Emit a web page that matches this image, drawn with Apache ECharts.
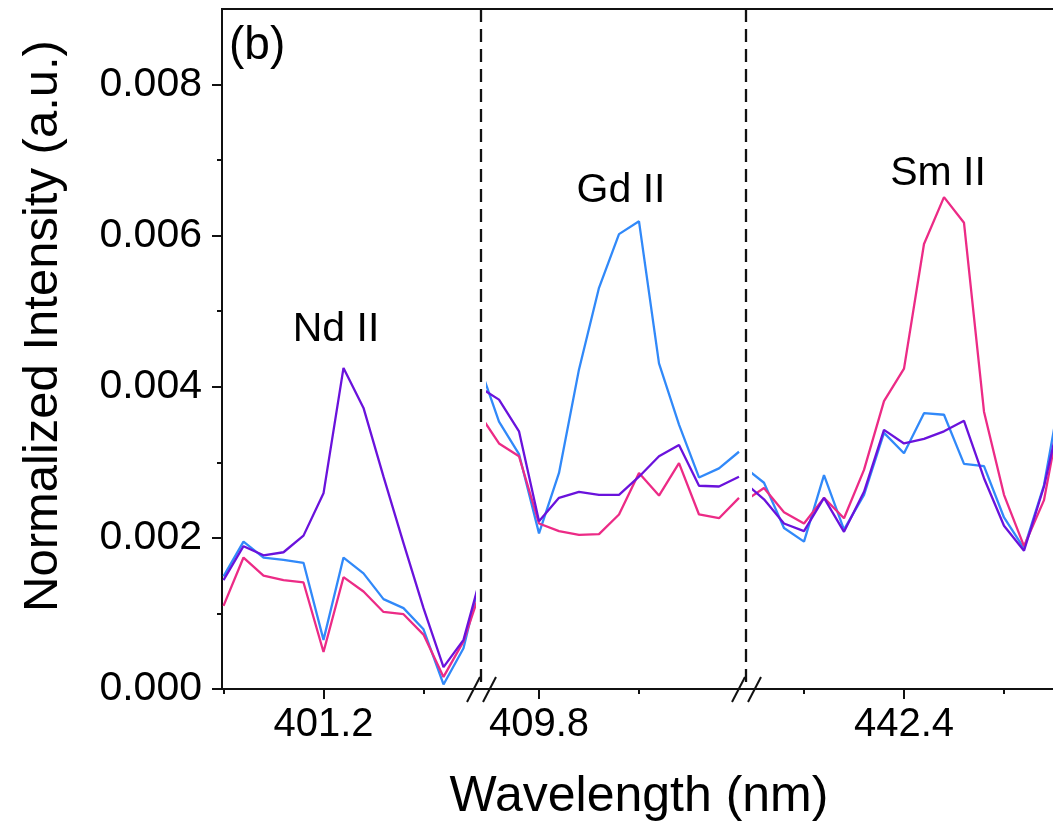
<!DOCTYPE html>
<html>
<head>
<meta charset="utf-8">
<title>Normalized Intensity - broken axis</title>
<script src="https://cdn.jsdelivr.net/npm/echarts@6/dist/echarts.min.js"></script>
<style>
  html, body { margin: 0; padding: 0; background: #fff; }
  #chart { width: 1053px; height: 826px; }
</style>
</head>
<body>
<div id="chart"></div>
<script>
// wavelength windows (nm)
var wlNd = [401.10, 401.12, 401.14, 401.16, 401.18, 401.20, 401.22, 401.24, 401.26, 401.28, 401.30, 401.32, 401.34, 401.36];
var wlGd = [409.74, 409.76, 409.78, 409.80, 409.82, 409.84, 409.86, 409.88, 409.90, 409.92, 409.94, 409.96, 409.98, 410.00];
var wlSm = [442.24, 442.26, 442.28, 442.30, 442.32, 442.34, 442.36, 442.38, 442.40, 442.42, 442.44, 442.46, 442.48, 442.50, 442.52, 442.54, 442.56];

// purple curve (strong Nd line)
var purpleNd = [0.00144, 0.00189, 0.00177, 0.00181, 0.00203, 0.00259, 0.00425, 0.00372, 0.00281, 0.00193, 0.00107, 0.00029, 0.00065, 0.00162];
var purpleGd = [0.00400, 0.00383, 0.00341, 0.00222, 0.00253, 0.00261, 0.00257, 0.00257, 0.00281, 0.00308, 0.00323, 0.00269, 0.00268, 0.00281];
var purpleSm = [0.00274, 0.00251, 0.00219, 0.00209, 0.00253, 0.00208, 0.00261, 0.00343, 0.00325, 0.00331, 0.00341, 0.00355, 0.00279, 0.00216, 0.00183, 0.00268, 0.00385];

// blue curve (strong Gd line)
var blueNd = [0.00149, 0.00195, 0.00174, 0.00171, 0.00167, 0.00065, 0.00174, 0.00153, 0.00119, 0.00107, 0.00079, 0.00006, 0.00054, 0.00164];
var blueGd = [0.00430, 0.00354, 0.00311, 0.00206, 0.00286, 0.00423, 0.00531, 0.00602, 0.00619, 0.00431, 0.00350, 0.00280, 0.00292, 0.00314];
var blueSm = [0.00294, 0.00273, 0.00213, 0.00195, 0.00283, 0.00211, 0.00257, 0.00339, 0.00312, 0.00365, 0.00363, 0.00298, 0.00295, 0.00227, 0.00186, 0.00270, 0.00418];

// pink curve (strong Sm line)
var pinkNd = [0.00110, 0.00174, 0.00150, 0.00144, 0.00141, 0.00049, 0.00148, 0.00129, 0.00102, 0.00099, 0.00072, 0.00016, 0.00063, 0.00142];
var pinkGd = [0.00365, 0.00325, 0.00308, 0.00219, 0.00209, 0.00204, 0.00205, 0.00231, 0.00286, 0.00256, 0.00299, 0.00231, 0.00226, 0.00253];
var pinkSm = [0.00248, 0.00266, 0.00234, 0.00219, 0.00253, 0.00226, 0.00290, 0.00381, 0.00424, 0.00589, 0.00651, 0.00617, 0.00367, 0.00257, 0.00189, 0.00250, 0.00391];

// tick labels
var yMajor = [0, 0.002, 0.004, 0.006, 0.008];
var yMinor = [0.001, 0.003, 0.005, 0.007];
var xMajor = [[401.2], [409.8], [442.4]];
var xMinor = [[401.1, 401.3], [409.9], [442.3, 442.5]];
var peakNames = ['Nd II', 'Gd II', 'Sm II'];

var FONT = "'Liberation Sans', Arial, sans-serif";
var INK = '#111';
var COLORS = { purple: '#6a12dc', blue: '#3189f9', pink: '#ec2b86' };

// visible window of each panel (1000 px per nm)
var xRanges = [[401.0985, 401.3505], [409.749, 410.001], [442.25, 442.596]];
var gridLeft = [222, 488, 754];
var gridWidth = [252, 252, 346];

function zip(xs, ys) {
    return xs.map(function (x, i) { return [x, ys[i]]; });
}

var grids = [], xAxes = [], yAxes = [], series = [];

for (var k = 0; k < 3; k++) {
    grids.push({ left: gridLeft[k], top: 9, width: gridWidth[k], height: 680, outerBoundsMode: 'none' });
}
// frame around the whole plot (runs off the right edge like the original)
grids.push({ left: 222, top: 9, width: 900, height: 680, outerBoundsMode: 'none', show: true, borderColor: INK, borderWidth: 2, backgroundColor: 'transparent' });

// major x axes (0..2)
for (var k = 0; k < 3; k++) {
    xAxes.push({
        type: 'value', gridIndex: k, position: 'bottom', min: xRanges[k][0], max: xRanges[k][1],
        axisLine: { show: false }, splitLine: { show: false },
        axisTick: { customValues: xMajor[k], length: 10, lineStyle: { color: INK, width: 2 } },
        axisLabel: { customValues: xMajor[k], margin: 16, fontSize: 40, color: '#000', fontFamily: FONT }
    });
}
// minor x ticks (3..5)
for (var k = 0; k < 3; k++) {
    xAxes.push({
        type: 'value', gridIndex: k, position: 'bottom', min: xRanges[k][0], max: xRanges[k][1],
        axisLine: { show: false }, splitLine: { show: false }, axisLabel: { show: false },
        axisTick: { customValues: xMinor[k], length: 5, lineStyle: { color: INK, width: 2 } }
    });
}
xAxes.push({ type: 'value', gridIndex: 3, show: false, min: 0, max: 1 });

// y axes
yAxes.push({
    type: 'value', gridIndex: 0, position: 'left', min: 0, max: 0.009,
    axisLine: { show: false }, splitLine: { show: false },
    axisTick: { customValues: yMajor, length: 10, lineStyle: { color: INK, width: 2 } },
    axisLabel: {
        customValues: yMajor, margin: 20, fontSize: 41, color: '#000', fontFamily: FONT,
        formatter: function (v) { return v.toFixed(3); }
    }
});
yAxes.push({ type: 'value', gridIndex: 1, show: false, min: 0, max: 0.009 });
yAxes.push({ type: 'value', gridIndex: 2, show: false, min: 0, max: 0.009 });
yAxes.push({
    type: 'value', gridIndex: 0, position: 'left', min: 0, max: 0.009,
    axisLine: { show: false }, splitLine: { show: false }, axisLabel: { show: false },
    axisTick: { customValues: yMinor, length: 5, lineStyle: { color: INK, width: 2 } }
});
yAxes.push({ type: 'value', gridIndex: 3, show: false, min: 0, max: 1 });

var wls = [wlNd, wlGd, wlSm];
var curves = [
    { name: 'blue', color: COLORS.blue, data: [blueNd, blueGd, blueSm] },
    { name: 'pink', color: COLORS.pink, data: [pinkNd, pinkGd, pinkSm] },
    { name: 'purple', color: COLORS.purple, data: [purpleNd, purpleGd, purpleSm] }
];
curves.forEach(function (c) {
    for (var k = 0; k < 3; k++) {
        series.push({
            type: 'line', name: c.name, xAxisIndex: k, yAxisIndex: k,
            data: zip(wls[k], c.data[k]), symbol: 'none', clip: true,
            lineStyle: { color: c.color, width: 2.3 }, itemStyle: { color: c.color }
        });
    }
});

// axis breaks and labels
var graphics = [];
[481, 746].forEach(function (bx) {
    graphics.push({ type: 'line', shape: { x1: bx, y1: 9, x2: bx, y2: 689 }, style: { stroke: INK, lineWidth: 2.3, lineDash: [13, 7] }, z: 10 });
    graphics.push({ type: 'line', shape: { x1: bx - 14, y1: 702, x2: bx - 1, y2: 677 }, style: { stroke: INK, lineWidth: 2 }, z: 10 });
    graphics.push({ type: 'line', shape: { x1: bx + 2, y1: 702, x2: bx + 15, y2: 677 }, style: { stroke: INK, lineWidth: 2 }, z: 10 });
});
var peakPos = [[336, 330], [621, 191], [938, 174]];
peakNames.forEach(function (t, i) {
    graphics.push({ type: 'text', x: peakPos[i][0], y: peakPos[i][1], style: { text: t, font: '41px ' + FONT, fill: '#000', textAlign: 'center', textVerticalAlign: 'middle' }, z: 10 });
});
graphics.push({ type: 'text', x: 229, y: 46, style: { text: '(b)', font: '46px ' + FONT, fill: '#000', textAlign: 'left', textVerticalAlign: 'middle' }, z: 10 });
graphics.push({ type: 'text', x: 639, y: 797, style: { text: 'Wavelength (nm)', font: '50px ' + FONT, fill: '#000', textAlign: 'center', textVerticalAlign: 'middle' }, z: 10 });
graphics.push({ type: 'text', x: 43, y: 326, rotation: Math.PI / 2, style: { text: 'Normalized Intensity (a.u.)', font: '49px ' + FONT, fill: '#000', textAlign: 'center', textVerticalAlign: 'middle' }, z: 10 });

var option = {
    animation: false,
    backgroundColor: '#fff',
    grid: grids,
    xAxis: xAxes,
    yAxis: yAxes,
    series: series,
    graphic: graphics
};

var myChart = echarts.init(document.getElementById('chart'));
myChart.setOption(option);
window.onresize = myChart.resize;
</script>
</body>
</html>
